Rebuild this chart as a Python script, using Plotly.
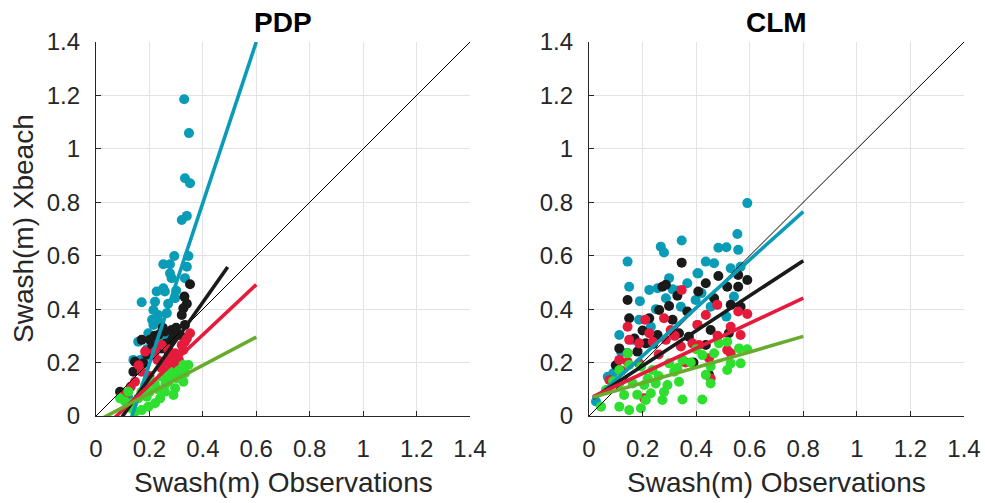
import numpy as np
import plotly.graph_objects as go

# ---------------- data ----------------
panel_titles = ["PDP", "CLM"]
x_label = "Swash(m) Observations"
y_label = "Swash(m) Xbeach"
tick_vals = [0, 0.2, 0.4, 0.6, 0.8, 1, 1.2, 1.4]
tick_text = ["0", "0.2", "0.4", "0.6", "0.8", "1", "1.2", "1.4"]

# PDP panel scatter
pdp_teal_x = [0.33, 0.348, 0.333, 0.352, 0.34, 0.321, 0.293, 0.252, 0.277, 0.346, 0.340, 0.277, 0.283, 0.333,
              0.252, 0.227, 0.258, 0.171, 0.221, 0.296, 0.233, 0.215, 0.265, 0.215, 0.246, 0.196, 0.233, 0.158,
              0.140, 0.165, 0.184, 0.10, 0.12, 0.30, 0.27, 0.24, 0.21, 0.19, 0.26]
pdp_teal_y = [1.186, 1.059, 0.89, 0.871, 0.749, 0.734, 0.599, 0.568, 0.568, 0.599, 0.559, 0.534, 0.516, 0.516,
              0.478, 0.466, 0.466, 0.426, 0.428, 0.441, 0.378, 0.397, 0.385, 0.341, 0.316, 0.31, 0.285, 0.278,
              0.21, 0.21, 0.222, 0.08, 0.07, 0.47, 0.42, 0.35, 0.36, 0.25, 0.30]
pdp_black_x = [0.352, 0.331, 0.327, 0.321, 0.283, 0.258, 0.233, 0.171, 0.202, 0.29, 0.315, 0.146, 0.14, 0.177,
               0.246, 0.271, 0.333, 0.09, 0.22, 0.26, 0.30, 0.25, 0.28, 0.21, 0.34, 0.19]
pdp_black_y = [0.493, 0.447, 0.403, 0.378, 0.322, 0.316, 0.303, 0.285, 0.285, 0.297, 0.303, 0.203, 0.166, 0.197,
               0.253, 0.241, 0.341, 0.091, 0.30, 0.27, 0.33, 0.33, 0.28, 0.26, 0.42, 0.23]
pdp_red_x = [0.352, 0.333, 0.327, 0.296, 0.277, 0.246, 0.221, 0.184, 0.258, 0.29, 0.171, 0.146, 0.115, 0.096,
             0.321, 0.246, 0.20, 0.31, 0.23, 0.27, 0.34, 0.16, 0.13]
pdp_red_y = [0.31, 0.278, 0.247, 0.235, 0.222, 0.266, 0.241, 0.241, 0.203, 0.191, 0.166, 0.128, 0.085, 0.072,
             0.266, 0.178, 0.15, 0.21, 0.21, 0.25, 0.29, 0.19, 0.11]
pdp_green_x = [0.346, 0.327, 0.333, 0.327, 0.302, 0.296, 0.271, 0.258, 0.24, 0.221, 0.196, 0.171, 0.146, 0.121,
               0.09, 0.109, 0.184, 0.209, 0.246, 0.277, 0.158, 0.19, 0.29, 0.23, 0.31, 0.20, 0.17, 0.26, 0.14,
               0.22, 0.13, 0.28]
pdp_green_y = [0.191, 0.191, 0.16, 0.128, 0.141, 0.104, 0.128, 0.091, 0.066, 0.048, 0.035, 0.022, 0.016, 0.091,
               0.066, 0.054, 0.116, 0.128, 0.147, 0.166, 0.066, 0.072, 0.079, 0.10, 0.17, 0.09, 0.09, 0.12, 0.05,
               0.12, 0.03, 0.15]

# CLM panel scatter
clm_teal_x = [0.346, 0.268, 0.28, 0.144, 0.15, 0.225, 0.256, 0.299, 0.312, 0.367, 0.405, 0.287, 0.343, 0.398,
              0.187, 0.231, 0.113, 0.163, 0.07, 0.026, 0.591, 0.554, 0.557, 0.483, 0.513, 0.436, 0.467, 0.529,
              0.566, 0.408, 0.541, 0.513, 0.454, 0.19, 0.25, 0.33, 0.42, 0.12, 0.09]
clm_teal_y = [0.657, 0.634, 0.612, 0.578, 0.484, 0.472, 0.478, 0.516, 0.474, 0.497, 0.534, 0.441, 0.409, 0.434,
              0.36, 0.334, 0.303, 0.285, 0.147, 0.054, 0.797, 0.681, 0.622, 0.63, 0.632, 0.578, 0.572, 0.553,
              0.559, 0.534, 0.447, 0.372, 0.409, 0.43, 0.40, 0.47, 0.46, 0.24, 0.16]
clm_black_x = [0.346, 0.274, 0.287, 0.144, 0.15, 0.225, 0.262, 0.299, 0.367, 0.312, 0.256, 0.212, 0.113, 0.144,
               0.181, 0.336, 0.373, 0.483, 0.516, 0.557, 0.591, 0.557, 0.436, 0.408, 0.467, 0.529, 0.566, 0.454,
               0.522, 0.448, 0.436, 0.20, 0.24, 0.33, 0.17, 0.10, 0.39]
clm_black_y = [0.574, 0.484, 0.491, 0.434, 0.366, 0.366, 0.397, 0.412, 0.391, 0.36, 0.303, 0.272, 0.253, 0.235,
               0.241, 0.31, 0.297, 0.524, 0.484, 0.528, 0.509, 0.484, 0.497, 0.466, 0.441, 0.416, 0.409, 0.322,
               0.31, 0.154, 0.266, 0.32, 0.27, 0.45, 0.29, 0.19, 0.20]
clm_red_x = [0.346, 0.144, 0.225, 0.28, 0.305, 0.15, 0.187, 0.238, 0.287, 0.343, 0.113, 0.144, 0.187, 0.076,
             0.206, 0.386, 0.405, 0.479, 0.557, 0.591, 0.436, 0.405, 0.529, 0.566, 0.516, 0.529, 0.448, 0.411,
             0.454, 0.26, 0.32, 0.21, 0.36, 0.12, 0.48]
clm_red_y = [0.472, 0.334, 0.31, 0.366, 0.322, 0.285, 0.272, 0.278, 0.285, 0.26, 0.21, 0.203, 0.197, 0.135,
             0.066, 0.272, 0.341, 0.416, 0.391, 0.382, 0.378, 0.341, 0.334, 0.303, 0.247, 0.235, 0.216, 0.266,
             0.141, 0.23, 0.30, 0.36, 0.20, 0.17, 0.30]
clm_green_x = [0.144, 0.113, 0.15, 0.194, 0.113, 0.163, 0.206, 0.249, 0.293, 0.336, 0.237, 0.299, 0.349, 0.131,
               0.231, 0.274, 0.113, 0.15, 0.194, 0.212, 0.349, 0.063, 0.045, 0.318, 0.56, 0.591, 0.516, 0.485,
               0.529, 0.566, 0.516, 0.467, 0.423, 0.454, 0.454, 0.436, 0.423, 0.26, 0.38, 0.22, 0.18, 0.40,
               0.33, 0.09, 0.28]
clm_green_y = [0.235, 0.172, 0.191, 0.185, 0.122, 0.122, 0.116, 0.122, 0.116, 0.128, 0.172, 0.197, 0.21, 0.079,
               0.085, 0.06, 0.035, 0.022, 0.029, 0.06, 0.062, 0.097, 0.035, 0.166, 0.253, 0.25, 0.278, 0.272,
               0.197, 0.197, 0.172, 0.235, 0.228, 0.185, 0.122, 0.154, 0.062, 0.15, 0.20, 0.14, 0.08, 0.25,
               0.18, 0.13, 0.09]

# regression lines (slope, intercept, x-range) in order teal, black, red, green
pdp_fit_slope = [3.01, 1.42, 0.94, 0.527]
pdp_fit_icpt = [-0.406, -0.142, -0.072, -0.021]
pdp_fit_xmin = [0.0, 0.0, 0.0, 0.0]
pdp_fit_xmax = [0.6, 0.493, 0.6, 0.6]
clm_fit_slope = [0.90, 0.655, 0.47, 0.29]
clm_fit_icpt = [0.045, 0.057, 0.065, 0.066]
clm_fit_xmin = [0.015, 0.015, 0.015, 0.015]
clm_fit_xmax = [0.8, 0.8, 0.8, 0.8]

# 1:1 line
diag_x = [0, 1.4]
diag_y = [0, 1.4]

# ---------------- styling ----------------
C_TEAL = "#0a9cb6"
C_BLACK = "#1a1a1a"
C_RED = "#e51b3c"
C_GREEN_PT = "#2fdf2f"
C_GREEN_LN = "#68ac2e"
point_colors = [C_TEAL, C_BLACK, C_RED, C_GREEN_PT]
line_colors = [C_TEAL, C_BLACK, C_RED, C_GREEN_LN]
FONT = "Liberation Sans, Arial, sans-serif"
AX_COL = "#262626"

fig = go.Figure()

panels = [
    dict(xa="x", ya="y",
         pts=[(pdp_teal_x, pdp_teal_y), (pdp_black_x, pdp_black_y), (pdp_red_x, pdp_red_y), (pdp_green_x, pdp_green_y)],
         fit=(pdp_fit_slope, pdp_fit_icpt, pdp_fit_xmin, pdp_fit_xmax)),
    dict(xa="x2", ya="y2",
         pts=[(clm_teal_x, clm_teal_y), (clm_black_x, clm_black_y), (clm_red_x, clm_red_y), (clm_green_x, clm_green_y)],
         fit=(clm_fit_slope, clm_fit_icpt, clm_fit_xmin, clm_fit_xmax)),
]

for p in panels:
    for (px, py), col in zip(p["pts"], point_colors):
        fig.add_trace(go.Scatter(x=px, y=py, mode="markers", xaxis=p["xa"], yaxis=p["ya"],
                                 marker=dict(color=col, size=10, line=dict(width=0)),
                                 showlegend=False, hoverinfo="skip"))
    fig.add_trace(go.Scatter(x=diag_x, y=diag_y, mode="lines", xaxis=p["xa"], yaxis=p["ya"],
                             line=dict(color="black", width=1), showlegend=False, hoverinfo="skip"))
    slopes, icpts, xmins, xmaxs = p["fit"]
    for s, b, x0, x1, col in zip(slopes, icpts, xmins, xmaxs, line_colors):
        lx = np.array([x0, x1])
        fig.add_trace(go.Scatter(x=lx, y=s * lx + b, mode="lines", xaxis=p["xa"], yaxis=p["ya"],
                                 line=dict(color=col, width=3.6), showlegend=False, hoverinfo="skip"))

W, H = 985, 503
xdom1 = [96 / W, 470 / W]
xdom2 = [589 / W, 964 / W]
ydom = [1 - 416 / H, 1 - 42 / H]

axis_common = dict(range=[0, 1.4], tickvals=tick_vals, ticktext=tick_text, ticks="inside", ticklen=5,
                   tickcolor=AX_COL, tickwidth=1, showline=True, linecolor=AX_COL, linewidth=1.2,
                   showgrid=True, gridcolor="#e3e3e3", gridwidth=1, zeroline=False, automargin=False,
                   tickfont=dict(family=FONT, size=24, color=AX_COL), mirror=False, fixedrange=True)

fig.update_layout(
    width=W, height=H, margin=dict(l=0, r=0, t=0, b=0, autoexpand=False),
    paper_bgcolor="white", plot_bgcolor="white",
    xaxis=dict(domain=xdom1, anchor="y", ticklabelstandoff=11, **axis_common),
    yaxis=dict(domain=ydom, anchor="x", ticklabelstandoff=10, **axis_common),
    xaxis2=dict(domain=xdom2, anchor="y2", ticklabelstandoff=11, **axis_common),
    yaxis2=dict(domain=ydom, anchor="x2", ticklabelstandoff=10, **axis_common),
    showlegend=False,
)

annos = []
for name, dom in zip(panel_titles, [xdom1, xdom2]):
    cx = (dom[0] + dom[1]) / 2
    annos.append(dict(text="<b>%s</b>" % name, x=cx, y=1 - 22 / H, xref="paper", yref="paper",
                      xanchor="center", yanchor="middle", showarrow=False,
                      font=dict(family=FONT, size=28, color="black")))
    annos.append(dict(text=x_label, x=cx, y=1 - 482 / H, xref="paper", yref="paper",
                      xanchor="center", yanchor="middle", showarrow=False,
                      font=dict(family=FONT, size=28, color=AX_COL)))
annos.append(dict(text=y_label, x=24 / W, y=1 - 229 / H, xref="paper", yref="paper",
                  xanchor="center", yanchor="middle", textangle=-90, showarrow=False,
                  font=dict(family=FONT, size=28, color=AX_COL)))
fig.update_layout(annotations=annos)

fig.write_html("out.html")
